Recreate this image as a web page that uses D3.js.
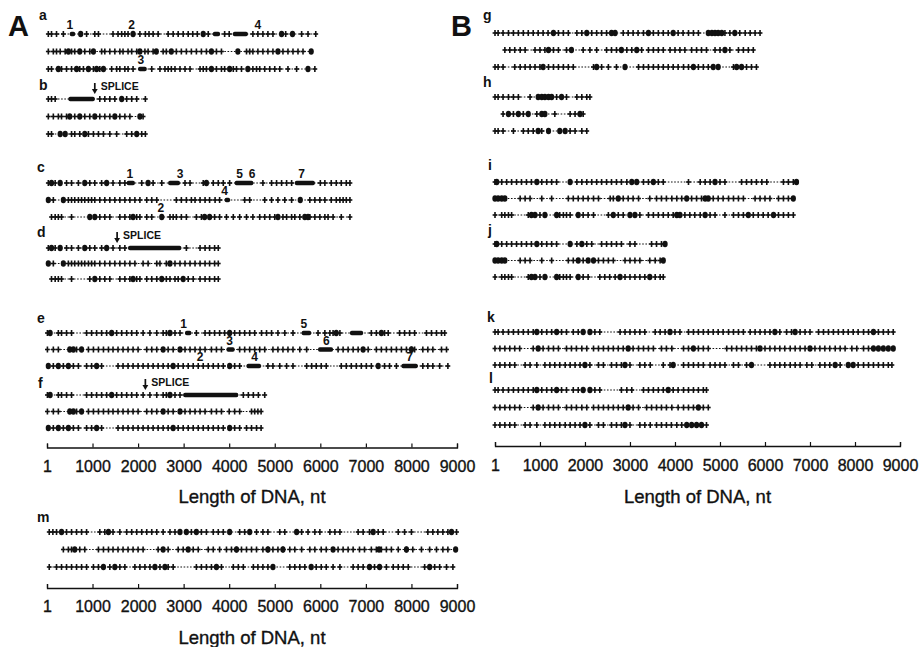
<!DOCTYPE html>
<html>
<head>
<meta charset="utf-8">
<script src="https://cdn.jsdelivr.net/npm/d3@7"></script>
<style>
  body { margin: 0; background: #fff; }
  svg { display: block; }
  .lbl { font-family: 'Liberation Sans', Arial, Helvetica, sans-serif; font-weight: bold; fill: #111; }
</style>
</head>
<body>
<svg width="920" height="647"></svg>
<script>
// ---- data: stop/marker positions (nt), three frames per panel ----
const tickValues = [1, 1000, 2000, 3000, 4000, 5000, 6000, 7000, 8000, 9000];

const rows_a = [
  {ticks: [30,100,210,360,870,1050,1130,1450,1560,1640,1710,1780,2040,2160,2240,2330,2440,2660,2770,2880,2990,3100,3200,3300,3540,3900,4000,4520,4630,4740,4850,4960,5240,5590,5730,5900], blobs: [740,1890,3430,5150,5390], bars: [[500,620],[3640,3800],[4080,4410]]},
  {ticks: [30,140,210,290,400,540,610,830,940,1200,1270,1380,1490,1600,1670,1780,1860,1970,2150,2220,2330,2550,2620,2840,2950,3060,3170,3280,3390,3500,3720,3830,4380,4450,4520,4630,4740,4850,4960,5180,5290,5400,5510,5620], blobs: [470,720,1020,2040,2400,2730,3610,4190,5070,5800], bars: []},
  {ticks: [30,100,320,430,540,720,800,1020,1160,1420,1530,1600,1710,1780,1890,2300,2480,2590,2660,2730,2810,2920,3030,3140,3360,3430,3500,3720,3830,3900,4090,4160,4270,4520,4600,4670,4780,4890,5000,5110,5290,5480,5880], blobs: [250,650,910,1090,1240,3610,4010,4410,5730], bars: [[2000,2190]]}
];
const rows_b = [
  {ticks: [30,100,180,1160,1270,1380,1490,1750,1860,1970,2160], blobs: [1640], bars: [[470,1050]]},
  {ticks: [30,140,250,320,430,610,830,940,1160,1270,1380,1600,1710,1820,2110], blobs: [500,720,1050,1490,2040], bars: []},
  {ticks: [30,100,540,610,720,910,1020,1130,1240,1380,1530,1750,1860,2080,2160], blobs: [290,400,830,1970], bars: []}
];
const rows_c = [
  {ticks: [30,180,430,540,690,940,1050,1200,1450,1600,1710,2080,2330,2520,3030,3140,3430,3650,3760,3870,4010,4740,4930,5040,5150,5260,5370,6000,6100,6240,6350,6460,6570,6650], blobs: [100,290,830,1310,2220,3500], bars: [[1750,1930],[2660,2920],[4120,4530],[5440,5880]]},
  {ticks: [140,470,540,610,690,760,830,910,980,1050,1160,1270,1380,1490,1600,1710,1820,1930,2040,2190,2300,2410,2840,2950,3060,3170,3250,3360,3470,3570,3690,3790,4340,4450,4780,4930,5070,5220,5370,5770,5880,5990,6100,6240,6350,6430,6500,6570,6650], blobs: [30,360,5560], bars: [[3900,4020]]},
  {ticks: [100,180,250,320,540,1160,1270,1380,1600,1710,1820,1970,2040,2190,2300,2700,2770,2840,2950,3060,3280,3390,3680,3790,3940,4090,4230,4380,4520,4670,4780,4890,5000,5180,5260,5370,5440,5550,5770,5880,5990,6100,6170,6280,6460,6650], blobs: [940,1050,1890,2520,3460,3570,5070,5660,5730], bars: []}
];
const rows_d = [
  {ticks: [30,180,430,540,690,940,1050,1200,1450,1600,1710,3060,3360,3470,3570,3680,3760], blobs: [100,290,830,1310], bars: [[1780,2950]]},
  {ticks: [140,470,540,610,690,760,830,910,980,1050,1160,1270,1380,1490,1600,1710,1820,1930,2110,2220,2410,2480,2620,2810,2920,3030,3140,3250,3360,3470,3570,3680,3760], blobs: [30,360,2700], bars: []},
  {ticks: [100,180,250,320,540,940,1160,1270,1380,1600,1710,1820,1970,2040,2190,2300,2410,2620,2700,2810,2880,3100,3210,3360,3470,3570,3680,3760], blobs: [1050,1890,2520,2990], bars: []}
];
const rows_e = [
  {ticks: [10,250,320,430,540,870,980,1090,1200,1310,1530,1640,1750,1860,1970,2110,2260,2410,2550,2620,2810,2920,3280,3470,3570,3680,3790,3900,4120,4230,4340,4450,4560,4710,4820,4930,5070,5220,5400,5950,6100,6210,6280,6430,7120,7230,7410,7490,7740,7850,7960,8070,8330,8440,8550,8660,8730], blobs: [70,1420,2700,4010,6350,7340], bars: [[3030,3170],[5590,5800],[6650,6940]]},
  {ticks: [10,140,250,650,910,1020,1130,1240,1350,1450,1560,1670,1780,1890,2000,2190,2300,2410,2660,2770,3030,3140,3250,3360,3470,3610,3720,3830,4230,4340,4450,4560,4670,4780,4960,5070,5180,5290,5400,5550,5700,6390,6500,6610,6720,6830,7050,7230,7340,7450,7560,7670,7780,7890,8000,8070,8250,8360,8470,8660,8770], blobs: [500,580,760,2550,2920,6940,8000], bars: [[3940,4120],[5950,6280]]},
  {ticks: [140,360,580,690,870,980,1200,1560,1670,1780,1890,2000,2110,2220,2330,2440,2550,2660,2770,2880,2990,3100,3210,3320,3430,3540,3650,3760,3870,4120,4230,4850,4960,5110,5260,5400,5700,5810,5910,6020,6130,6460,6570,6680,6790,6900,7010,7120,7410,7520,7670,8250,8360,8470,8620,8800], blobs: [30,250,470,1090,2770,4010,7270], bars: [[4380,4700],[7780,8140]]}
];
const rows_f = [
  {ticks: [10,250,320,430,540,870,980,1090,1200,1310,1530,1640,1750,1860,1970,2110,2260,2410,2550,2620,2810,2920,4310,4420,4530,4640,4780], blobs: [70,1420,2700], bars: [[2990,4200]]},
  {ticks: [10,140,250,650,910,1020,1130,1240,1350,1450,1560,1670,1780,1890,2000,2190,2300,2410,2660,2770,3030,3140,3250,3360,3470,3610,3720,3830,4000,4120,4230,4490,4560,4630,4700], blobs: [500,580,760,2550,2920], bars: []},
  {ticks: [140,360,580,690,870,980,1200,1560,1670,1780,1890,2000,2110,2220,2330,2440,2550,2660,2770,2880,2990,3100,3210,3320,3430,3540,3650,3760,3870,4120,4230,4380,4490,4600,4700], blobs: [30,250,470,1090,2770,4010], bars: []}
];
const rows_m = [
  {ticks: [50,130,210,430,540,650,760,870,1160,1270,1450,1600,1750,1860,1970,2080,2190,2300,2410,2550,2700,2810,3170,3390,3500,3650,3760,3870,4230,4340,4600,4740,4850,5110,5220,5590,5730,5880,5990,6210,6320,6430,6830,6940,7080,7270,7380,7710,7850,8000,8360,8470,8580,8690,8800,8990], blobs: [320,1350,2920,3060,3280,4010,4450,5480,7160,8880], bars: []},
  {ticks: [360,470,540,720,830,1130,1240,1350,1450,1560,1670,1780,1890,2000,2110,2440,2660,2880,2990,3210,3320,3540,3650,3790,3940,4050,4160,4270,4380,4490,4600,4740,4850,4960,5070,5180,5330,5440,5590,5770,5880,6020,6130,6390,6500,6610,6720,6860,6970,7120,7230,7340,7450,7560,7710,7890,8030,8220,8400,8550,8690,8800], blobs: [610,2550,3100,4160,4850,5180,6280,7290,7890,8970], bars: []},
  {ticks: [50,210,320,430,540,650,760,870,1020,1130,1380,1600,1710,1930,2040,2150,2260,2480,2660,2770,3280,3390,3500,3610,3830,4090,4200,4310,4530,4630,4740,4850,5330,5440,5550,5660,5910,6020,6130,6280,6430,6720,6830,6940,7190,7300,7450,7600,7710,7820,7930,8290,8510,8620,8770,8910], blobs: [1240,1490,2370,2590,3720,4960,5800,7080,7300,8400], bars: []}
];
const rows_g = [
  {ticks: [1,70,180,300,410,520,630,740,850,960,1070,1180,1410,1520,1630,1820,1930,2150,2260,2370,2480,2850,2960,3070,3180,3300,3520,3630,3740,3850,4070,4180,4300,4410,4520,5110,5220,5440,5560,5670,5780,5890], blobs: [1300,2040,2590,2670,3410,3960,4740,4820,4890,4960,5040,5330], bars: []},
  {ticks: [220,330,440,560,670,890,1000,1110,1300,1410,1590,1960,2110,2260,2480,2590,2700,2930,3040,3260,3410,3520,3630,3740,3890,4000,4110,4220,4370,4480,4590,4700,4890,5000,5220,5410,5520,5630,5740], blobs: [1190,1700,2810,3150,5110], bars: []},
  {ticks: [1,70,180,440,560,670,780,890,1000,1190,1300,1410,1520,1630,1740,2190,2370,2520,2700,3190,3300,3410,3520,3630,3740,3850,3960,4070,4190,4300,4520,4630,4740,5300,5590,5700,5810], blobs: [1070,2260,2890,4410,4850,4960,5370,5480], bars: []}
];
const rows_h = [
  {ticks: [1,70,180,300,410,520,780,1370,1590,1820,1930,2040,2110], blobs: [960,1040,1110,1190,1260,1480], bars: []},
  {ticks: [180,410,630,930,1330,1670,1780,1960], blobs: [300,520,740,1040,1110,1890], bars: []},
  {ticks: [1,70,180,410,630,740,850,1040,1670,1780,1930,2040], blobs: [960,1190,1440,1560], bars: []}
];
const rows_i = [
  {ticks: [1,150,260,370,480,590,700,810,1040,1150,1260,1370,1820,1930,2040,2150,2260,2370,2480,2590,2700,2810,2930,3300,3410,3630,3740,4300,4560,4670,4780,5000,5110,5480,5590,5700,5810,5930,6040,6410,6520,6630], blobs: [40,930,1670,3040,3150,3520,4890,6700], bars: []},
  {ticks: [560,670,780,1040,1260,1630,1740,1850,1960,2070,2190,2300,2560,2630,2850,2960,3070,3190,3440,3590,3700,3810,3930,4040,4150,4370,4480,4590,4850,4960,5070,5190,5300,5410,5520,5780,5890,6000,6110,6300,6410,6520], blobs: [0,70,150,220,2740,4260,4670,4740,6630], bars: []},
  {ticks: [1,150,220,300,370,740,1000,1440,1520,1590,1670,1960,2070,2190,2520,2740,2850,3220,3410,3520,3630,3740,3850,3960,4220,4330,4440,4560,4780,4890,5110,5300,5410,5520,5740,5850,5960,6070,6300,6410,6520,6630], blobs: [810,890,1110,1370,1850,2630,3000,3110,4040,4110,4670,5630,6190], bars: []}
];
const rows_j = [
  {ticks: [1,150,260,370,480,590,700,810,1040,1150,1260,1370,1820,2040,2150,2370,2480,2590,2700,2810,3000,3110,3480,3590,3700], blobs: [40,930,1670,1930,3780], bars: []},
  {ticks: [560,670,780,1040,1260,1630,1740,1960,2300,2410,2520,2630,2890,3000,3110,3220,3440,3560,3670], blobs: [0,70,150,220,1850,2070,2190,3740], bars: []},
  {ticks: [1,150,220,300,370,740,1000,1440,1520,1590,1670,1960,2070,2330,2440,2550,2670,2890,3000,3110,3220,3330,3560,3670,3740], blobs: [810,890,1110,1370,1850,2780,3440], bars: []}
];
const rows_k = [
  {ticks: [1,70,180,300,410,520,630,740,850,1040,1150,1260,1480,1590,1740,1850,2220,2330,2780,2890,3000,3110,3220,3330,3560,3670,3780,4000,4110,4300,4410,4520,4630,4740,4850,4960,5070,5190,5300,5410,5520,5670,5780,5890,6000,6110,6330,6480,6590,6780,6890,7000,7190,7300,7410,7520,7630,7740,7850,7960,8070,8190,8300,8520,8630,8740,8850], blobs: [930,1370,1960,2110,3890,6220,6670,8410], bars: []},
  {ticks: [0,110,220,330,440,550,850,1070,1190,1300,1410,1590,1700,1810,1930,2040,2190,2300,2410,2520,2630,2740,2850,3070,3190,3300,3410,3520,3700,3810,3930,4190,4300,4520,4630,4740,5150,5260,5370,5480,5590,5700,5810,6000,6110,6220,6330,6440,6560,6670,6780,6890,7110,7220,7330,7440,7560,7670,7780,7930,8040,8190,8300], blobs: [960,2960,4410,5890,7000,8410,8520,8630,8740,8850], bars: []},
  {ticks: [0,110,220,330,440,670,780,930,1110,1220,1330,1440,1560,1670,1780,1890,2110,2300,2410,2590,2700,2810,3000,3220,3330,3450,3740,3890,4190,4300,4410,4520,4630,4780,4890,5000,5110,5300,5410,5590,6110,6220,6330,6440,6560,6670,6780,6930,7040,7220,7330,7440,7670,8070,8190,8300,8410,8520,8630,8740,8820], blobs: [2000,2890,3960,5700,7560,7850,7960], bars: []}
];
const rows_l = [
  {ticks: [1,70,180,300,410,520,630,740,850,1040,1150,1260,1480,1590,1740,1850,2220,2330,2810,2930,3040,3300,3410,3520,3630,3740,3960,4070,4190,4300,4410,4520,4630,4700], blobs: [930,1370,1960,2110,3850], bars: []},
  {ticks: [0,110,220,330,440,550,850,1070,1190,1300,1410,1590,1700,1810,1930,2040,2190,2300,2410,2520,2630,2740,2850,3070,3190,3370,3480,3590,3700,3810,3930,4070,4190,4300,4410,4630,4740], blobs: [960,2960,4520], bars: []},
  {ticks: [0,110,220,330,440,670,780,930,1110,1220,1330,1440,1560,1670,1780,1890,2110,2300,2410,2590,2700,2810,3000,3220,3330,3450,3590,3700,3810,3920,4040,4150,4700], blobs: [2000,2890,4260,4370,4480,4590], bars: []}
];

// numbered reading frames and splice points
const orf_a = [{t: "1", row: 0, nt: 500}, {t: "2", row: 0, nt: 1860}, {t: "4", row: 0, nt: 4630}, {t: "3", row: 2, nt: 2060}];
const orf_c = [{t: "1", row: 0, nt: 1820}, {t: "3", row: 0, nt: 2920}, {t: "5", row: 0, nt: 4230}, {t: "6", row: 0, nt: 4500}, {t: "7", row: 0, nt: 5590}, {t: "4", row: 1, nt: 3900}, {t: "2", row: 2, nt: 2500}];
const orf_e = [{t: "1", row: 0, nt: 3000}, {t: "5", row: 0, nt: 5640}, {t: "3", row: 1, nt: 4010}, {t: "6", row: 1, nt: 6130}, {t: "2", row: 2, nt: 3360}, {t: "4", row: 2, nt: 4560}, {t: "7", row: 2, nt: 7960}];
const splice_b = 1050, splice_d = 1540, splice_f = 2160;

// ---- drawing ----
var ink = "#111";
var svg = d3.select("svg");

var xA = d3.scaleLinear().domain([1, 9000]).range([47, 457]);
var xB = d3.scaleLinear().domain([1, 9000]).range([495, 900]);

var panels = [
  {rows: rows_a, x: xA, ys: [34, 51.5, 69], name: "a", lx: 39, ly: 20, orf: orf_a},
  {rows: rows_b, x: xA, ys: [99, 116.5, 134], name: "b", lx: 39, ly: 90, splice: splice_b},
  {rows: rows_c, x: xA, ys: [183, 200, 217], name: "c", lx: 37, ly: 172, orf: orf_c},
  {rows: rows_d, x: xA, ys: [248, 263.5, 279], name: "d", lx: 37, ly: 237, splice: splice_d},
  {rows: rows_e, x: xA, ys: [333, 349.5, 366], name: "e", lx: 37, ly: 323, orf: orf_e},
  {rows: rows_f, x: xA, ys: [395, 411.5, 428], name: "f", lx: 38, ly: 388, splice: splice_f},
  {rows: rows_m, x: xA, ys: [532, 549.5, 567], name: "m", lx: 37, ly: 522},
  {rows: rows_g, x: xB, ys: [33, 50, 67], name: "g", lx: 483, ly: 20},
  {rows: rows_h, x: xB, ys: [97, 114, 131], name: "h", lx: 483, ly: 87},
  {rows: rows_i, x: xB, ys: [182, 198.5, 215], name: "i", lx: 488, ly: 170},
  {rows: rows_j, x: xB, ys: [244, 260.5, 277], name: "j", lx: 488, ly: 235},
  {rows: rows_k, x: xB, ys: [332, 348.5, 365], name: "k", lx: 487, ly: 322},
  {rows: rows_l, x: xB, ys: [390, 407.5, 425], name: "l", lx: 489, ly: 383}
];

function drawRows(p) {
  var x = p.x;
  p.rows.forEach(function(r, i) {
    var y = p.ys[i];
    var ends = d3.extent(r.ticks.concat(r.blobs, r.bars.flat()));
    var g = svg.append("g").attr("class", "frame");
    g.append("line")
      .attr("x1", x(ends[0])).attr("x2", x(ends[1]))
      .attr("y1", y).attr("y2", y)
      .attr("stroke", ink).attr("stroke-width", 1)
      .attr("stroke-dasharray", "1.6,1.6");
    g.selectAll("rect.bar").data(r.bars).join("rect").attr("class", "bar")
      .attr("x", d => x(d[0])).attr("width", d => x(d[1]) - x(d[0]))
      .attr("y", y - 2.3).attr("height", 4.6).attr("rx", 1.8)
      .attr("fill", ink);
    var t = g.selectAll("g.tk").data(r.ticks).join("g").attr("class", "tk")
      .attr("transform", d => "translate(" + x(d) + "," + y + ")");
    t.append("rect").attr("x", -0.8).attr("y", -3).attr("width", 1.6).attr("height", 6).attr("fill", ink);
    t.append("rect").attr("x", -2.4).attr("y", -0.8).attr("width", 4.8).attr("height", 1.6).attr("fill", ink);
    g.selectAll("ellipse.bl").data(r.blobs).join("ellipse").attr("class", "bl")
      .attr("cx", d => x(d)).attr("cy", y).attr("rx", 2.6).attr("ry", 3.3)
      .attr("fill", ink);
  });

  svg.append("text").attr("class", "lbl")
    .attr("x", p.lx).attr("y", p.ly)
    .attr("font-size", 14)
    .text(p.name);

  if (p.orf) {
    svg.selectAll(null).data(p.orf).join("text").attr("class", "lbl")
      .attr("x", d => x(d.nt)).attr("y", d => p.ys[d.row] - 5)
      .attr("text-anchor", "middle").attr("font-size", 12)
      .text(d => d.t);
  }

  if (p.splice !== undefined) {
    var sx = x(p.splice), top = p.ys[0] - 16;
    var s = svg.append("g");
    s.append("line").attr("x1", sx).attr("x2", sx).attr("y1", top).attr("y2", top + 7)
      .attr("stroke", ink).attr("stroke-width", 1.7);
    s.append("path")
      .attr("d", "M" + (sx - 2.9) + "," + (top + 6) + "L" + (sx + 2.9) + "," + (top + 6) + "L" + sx + "," + (top + 11) + "Z")
      .attr("fill", ink);
    s.append("text").attr("class", "lbl")
      .attr("x", sx + 6).attr("y", p.ys[0] - 9.5)
      .attr("font-size", 10.5)
      .text("SPLICE");
  }
}

panels.forEach(drawRows);

function drawAxis(x, y, labelBase, titleBase) {
  var g = svg.append("g").attr("transform", "translate(0," + y + ")");
  g.call(d3.axisBottom(x).tickValues(tickValues)
    .tickSizeInner(-4).tickSizeOuter(-4).tickPadding(0)
    .tickFormat(d3.format("d")));
  g.select(".domain").attr("stroke", ink).attr("stroke-width", 1.3);
  g.selectAll(".tick line").attr("stroke", ink).attr("stroke-width", 1.2);
  g.selectAll(".tick text")
    .attr("dy", null).attr("y", labelBase - y)
    .attr("fill", ink)
    .attr("stroke", ink).attr("stroke-width", 0.35)
    .attr("font-size", 16)
    .attr("font-family", "'Liberation Sans', Arial, sans-serif");
  svg.append("text")
    .attr("x", (x.range()[0] + x.range()[1]) / 2).attr("y", titleBase)
    .attr("text-anchor", "middle")
    .attr("font-family", "'Liberation Sans', Arial, sans-serif")
    .attr("font-size", 18.5).attr("fill", ink)
    .attr("stroke", ink).attr("stroke-width", 0.35)
    .text("Length of DNA, nt");
}

drawAxis(xA, 447.5, 471.5, 503);
drawAxis(xB, 446, 470.5, 503);
drawAxis(xA, 588, 612, 644);

// big panel letters
svg.append("text").attr("class", "lbl").attr("x", 8).attr("y", 36).attr("font-size", 29).text("A");
svg.append("text").attr("class", "lbl").attr("x", 451).attr("y", 36).attr("font-size", 29).text("B");
</script>
</body>
</html>
